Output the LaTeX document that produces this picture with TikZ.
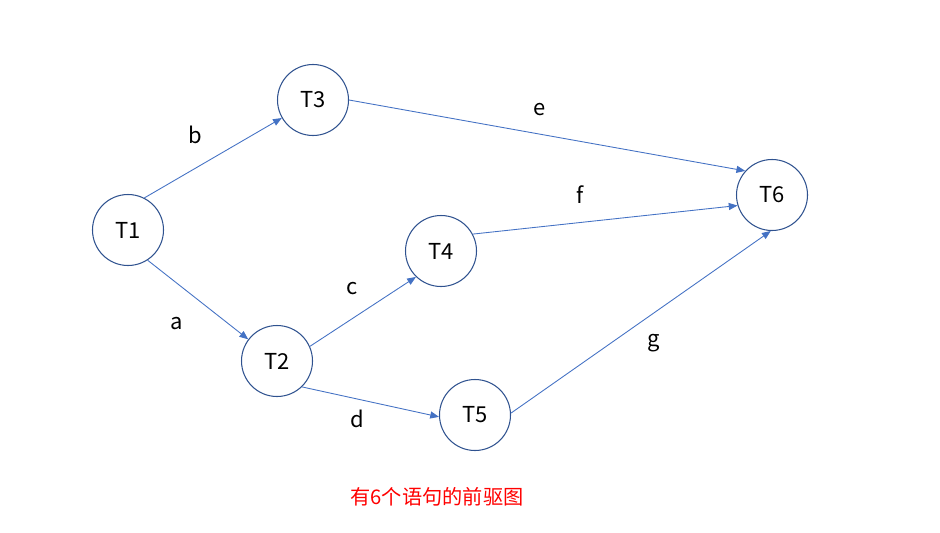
\documentclass[tikz,border=0pt]{standalone}
\usepackage{fontspec}
\setmainfont{Noto Sans CJK SC}
\usetikzlibrary{arrows.meta}
\usepackage{xcolor}
\definecolor{pgring}{HTML}{2F528F}
\definecolor{pgline}{HTML}{4472C4}
\definecolor{pgred}{HTML}{FF0000}

\begin{document}
\begin{tikzpicture}[font=\fontsize{12.5}{15}\selectfont,
    task/.style={draw=pgring, line width=0.6pt, circle, minimum size=1.42cm, inner sep=0pt},
    prec/.style={draw=pgline, line width=0.5pt, -{Triangle[length=5pt, width=4pt]}},
    lbl/.style={inner sep=0pt}]
        \useasboundingbox (0,0) rectangle (18.8,10.64);
        % tasks
        \node[task] (t1) at (2.56,6.04) {T1};
        \node[task] (t3) at (6.26,8.64) {T3};
        \node[task] (t2) at (5.54,3.42) {T2};
        \node[task] (t4) at (8.82,5.62) {T4};
        \node[task] (t5) at (9.50,2.34) {T5};
        \node[task] (t6) at (15.44,6.74) {T6};
        % precedence
        \draw[prec] (t1.63) -- (t3.210);
        \draw[prec] (t1.-57) -- (t2.143);
        \draw[prec] (t2.24) -- (t4.226);
        \draw[prec] (t2.-46) -- (t5.183);
        \draw[prec] (t3.0) -- (t6.138);
        \draw[prec] (t4.28) -- (t6.197);
        \draw[prec] (t5.3) -- (t6.268);
        % labels
        \node[lbl] (lb) at (3.90,7.94) {b};
        \node[lbl] (la) at (3.54,4.16) {a};
        \node[lbl] (lc) at (7.04,4.86) {c};
        \node[lbl] (ld) at (7.14,2.26) {d};
        \node[lbl] (le) at (10.80,8.44) {e};
        \node[lbl] (lf) at (11.60,6.74) {f};
        \node[lbl] (lg) at (13.08,3.78) {g};
        \node[text=pgred, font=\fontsize{11.5}{14}\selectfont] (cap) at (8.74,0.70) {有6个语句的前驱图};
      \end{tikzpicture}
\end{document}
